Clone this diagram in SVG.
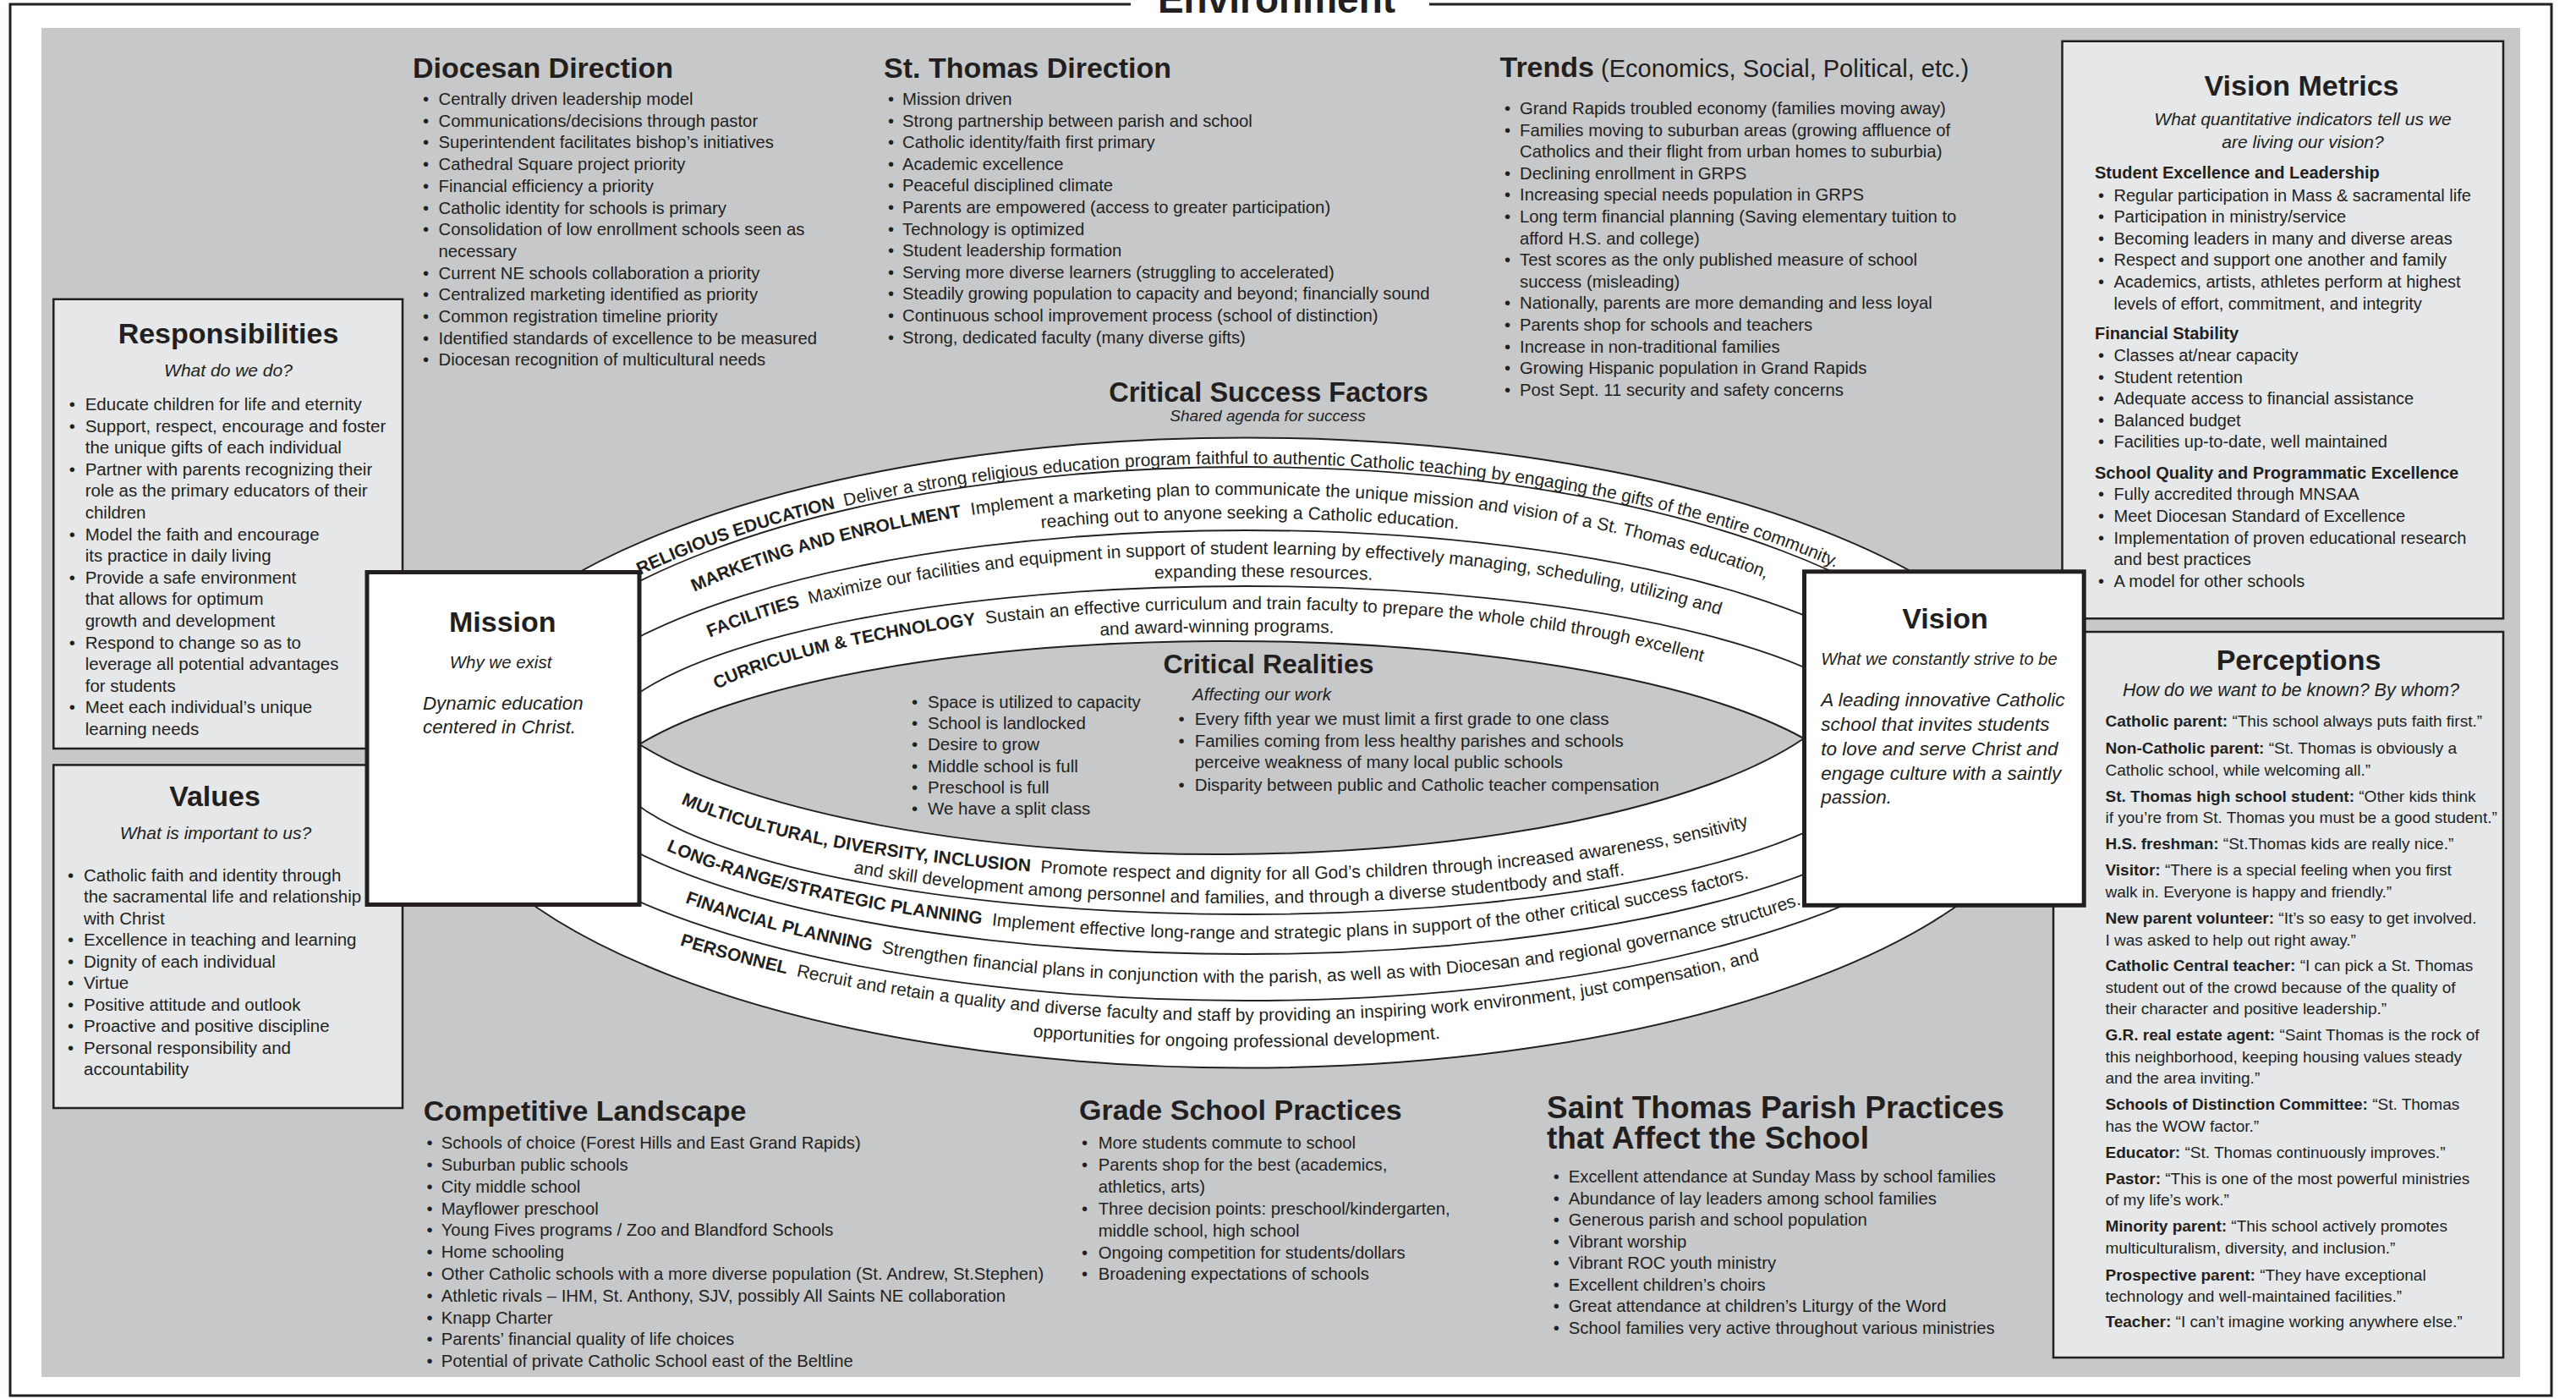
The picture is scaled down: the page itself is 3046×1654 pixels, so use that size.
<svg xmlns="http://www.w3.org/2000/svg" width="3046" height="1654" viewBox="0 0 3046 1654">
<defs>
<style>
text{font-family:"Liberation Sans",Arial,Helvetica,sans-serif;fill:#231f20}
.h{font-size:34px;font-weight:bold}
.b{font-size:20.3px}
.r{font-size:20.5px}
.v{font-size:20px}
.p{font-size:19px}
.it{font-style:italic}
.bd{font-weight:bold}
.box{fill:#e6e7e8;stroke:#231f20;stroke-width:2.5}
.mv{fill:#fff;stroke:#231f20;stroke-width:5}
.arc{fill:none;stroke:#231f20;stroke-width:1.8}
.band{font-size:21px}
.mid{text-anchor:middle}
</style>
<path id="p1" d="M565 890A908 342 0 0 1 2381 890"/>
<path id="p2" d="M639 890A834 305 0 0 1 2307 890"/>
<path id="p3" d="M623 890A850 277 0 0 1 2323 890"/>
<path id="p4" d="M695 890A778 235 0 0 1 2251 890"/>
<path id="p5" d="M693 890A780 208 0 0 1 2253 890"/>
<path id="p6" d="M776 890A697 170 0 0 1 2170 890"/>
<path id="p7" d="M773 890A700 143 0 0 1 2173 890"/>
<path id="p8" d="M744.4 890A728.6 150 0 0 0 2201.6 890"/>
<path id="p9" d="M704 890A769 178 0 0 0 2242 890"/>
<path id="p10" d="M668.4 890A804.6 220 0 0 0 2277.6 890"/>
<path id="p11" d="M599 890A874 272 0 0 0 2347 890"/>
<path id="p12" d="M513 890A960 317 0 0 0 2433 890"/>
<path id="p13" d="M513 890A960 348 0 0 0 2433 890"/>
</defs>
<rect width="3046" height="1654" fill="#fff"/>
<g id="frame">
<path d="M1337 5H12V1650H3017V5H1690" fill="none" stroke="#231f20" stroke-width="3"/>
<text x="1509.5" y="15" class="mid" font-size="46" font-weight="bold">Environment</text>
</g>
<rect id="environment-area" x="49" y="33" width="2931" height="1595" fill="#c7c8ca"/>

<g id="diocesan-direction">
<text class="h" x="488" y="92">Diocesan Direction</text>
<text class="b"><tspan x="500" y="124">•</tspan><tspan x="500" y="149.7">•</tspan><tspan x="500" y="175.4">•</tspan><tspan x="500" y="201.1">•</tspan><tspan x="500" y="226.8">•</tspan><tspan x="500" y="252.5">•</tspan><tspan x="500" y="278.2">•</tspan><tspan x="500" y="329.6">•</tspan><tspan x="500" y="355.3">•</tspan><tspan x="500" y="381">•</tspan><tspan x="500" y="406.7">•</tspan><tspan x="500" y="432.4">•</tspan></text>
<text class="b"><tspan x="518.5" y="124">Centrally driven leadership model</tspan><tspan x="518.5" y="149.7">Communications/decisions through pastor</tspan><tspan x="518.5" y="175.4">Superintendent facilitates bishop’s initiatives</tspan><tspan x="518.5" y="201.1">Cathedral Square project priority</tspan><tspan x="518.5" y="226.8">Financial efficiency a priority</tspan><tspan x="518.5" y="252.5">Catholic identity for schools is primary</tspan><tspan x="518.5" y="278.2">Consolidation of low enrollment schools seen as</tspan><tspan x="518.5" y="303.9">necessary</tspan><tspan x="518.5" y="329.6">Current NE schools collaboration a priority</tspan><tspan x="518.5" y="355.3">Centralized marketing identified as priority</tspan><tspan x="518.5" y="381">Common registration timeline priority</tspan><tspan x="518.5" y="406.7">Identified standards of excellence to be measured</tspan><tspan x="518.5" y="432.4">Diocesan recognition of multicultural needs</tspan></text>
</g>

<g id="st-thomas-direction">
<text class="h" x="1045" y="92">St. Thomas Direction</text>
<text class="b"><tspan x="1050" y="124">•</tspan><tspan x="1050" y="149.6">•</tspan><tspan x="1050" y="175.2">•</tspan><tspan x="1050" y="200.8">•</tspan><tspan x="1050" y="226.4">•</tspan><tspan x="1050" y="252">•</tspan><tspan x="1050" y="277.6">•</tspan><tspan x="1050" y="303.2">•</tspan><tspan x="1050" y="328.8">•</tspan><tspan x="1050" y="354.4">•</tspan><tspan x="1050" y="380">•</tspan><tspan x="1050" y="405.6">•</tspan></text>
<text class="b"><tspan x="1067" y="124">Mission driven</tspan><tspan x="1067" y="149.6">Strong partnership between parish and school</tspan><tspan x="1067" y="175.2">Catholic identity/faith first primary</tspan><tspan x="1067" y="200.8">Academic excellence</tspan><tspan x="1067" y="226.4">Peaceful disciplined climate</tspan><tspan x="1067" y="252">Parents are empowered (access to greater participation)</tspan><tspan x="1067" y="277.6">Technology is optimized</tspan><tspan x="1067" y="303.2">Student leadership formation</tspan><tspan x="1067" y="328.8">Serving more diverse learners (struggling to accelerated)</tspan><tspan x="1067" y="354.4">Steadily growing population to capacity and beyond; financially sound</tspan><tspan x="1067" y="380">Continuous school improvement process (school of distinction)</tspan><tspan x="1067" y="405.6">Strong, dedicated faculty (many diverse gifts)</tspan></text>
</g>

<g id="trends">
<text x="1773.5" y="91"><tspan class="h">Trends</tspan><tspan font-size="29"> (Economics, Social, Political, etc.)</tspan></text>
<text class="b"><tspan x="1779" y="135">•</tspan><tspan x="1779" y="160.6">•</tspan><tspan x="1779" y="211.8">•</tspan><tspan x="1779" y="237.4">•</tspan><tspan x="1779" y="263">•</tspan><tspan x="1779" y="314.2">•</tspan><tspan x="1779" y="365.4">•</tspan><tspan x="1779" y="391">•</tspan><tspan x="1779" y="416.6">•</tspan><tspan x="1779" y="442.2">•</tspan><tspan x="1779" y="467.8">•</tspan></text>
<text class="b"><tspan x="1797" y="135">Grand Rapids troubled economy (families moving away)</tspan><tspan x="1797" y="160.6">Families moving to suburban areas (growing affluence of</tspan><tspan x="1797" y="186.2">Catholics and their flight from urban homes to suburbia)</tspan><tspan x="1797" y="211.8">Declining enrollment in GRPS</tspan><tspan x="1797" y="237.4">Increasing special needs population in GRPS</tspan><tspan x="1797" y="263">Long term financial planning (Saving elementary tuition to</tspan><tspan x="1797" y="288.6">afford H.S. and college)</tspan><tspan x="1797" y="314.2">Test scores as the only published measure of school</tspan><tspan x="1797" y="339.8">success (misleading)</tspan><tspan x="1797" y="365.4">Nationally, parents are more demanding and less loyal</tspan><tspan x="1797" y="391">Parents shop for schools and teachers</tspan><tspan x="1797" y="416.6">Increase in non-traditional families</tspan><tspan x="1797" y="442.2">Growing Hispanic population in Grand Rapids</tspan><tspan x="1797" y="467.8">Post Sept. 11 security and safety concerns</tspan></text>
</g>

<g id="vision-metrics">
<rect class="box" x="2438.5" y="48.75" width="521.5" height="682.5"/>
<text class="h mid" x="2721.5" y="112.6">Vision Metrics</text>
<text class="it mid" font-size="21"><tspan x="2723" y="148">What quantitative indicators tell us we</tspan><tspan x="2723" y="175">are living our vision?</tspan></text>
<text class="v bd"><tspan x="2477" y="211">Student Excellence and Leadership</tspan><tspan x="2477" y="400.5">Financial Stability</tspan><tspan x="2477" y="565.7">School Quality and Programmatic Excellence</tspan></text>
<text class="v"><tspan x="2481" y="237.6">•</tspan><tspan x="2481" y="263">•</tspan><tspan x="2481" y="289">•</tspan><tspan x="2481" y="314.4">•</tspan><tspan x="2481" y="340.3">•</tspan><tspan x="2481" y="427.3">•</tspan><tspan x="2481" y="452.8">•</tspan><tspan x="2481" y="478.2">•</tspan><tspan x="2481" y="504">•</tspan><tspan x="2481" y="529.1">•</tspan><tspan x="2481" y="591.2">•</tspan><tspan x="2481" y="617">•</tspan><tspan x="2481" y="642.5">•</tspan><tspan x="2481" y="693.8">•</tspan></text>
<text class="v"><tspan x="2499.5" y="237.6">Regular participation in Mass &amp; sacramental life</tspan><tspan x="2499.5" y="263">Participation in ministry/service</tspan><tspan x="2499.5" y="289">Becoming leaders in many and diverse areas</tspan><tspan x="2499.5" y="314.4">Respect and support one another and family</tspan><tspan x="2499.5" y="340.3">Academics, artists, athletes perform at highest</tspan><tspan x="2499.5" y="365.7">levels of effort, commitment,  and integrity</tspan><tspan x="2499.5" y="427.3">Classes at/near capacity</tspan><tspan x="2499.5" y="452.8">Student retention</tspan><tspan x="2499.5" y="478.2">Adequate access to financial assistance</tspan><tspan x="2499.5" y="504">Balanced budget</tspan><tspan x="2499.5" y="529.1">Facilities up-to-date, well maintained</tspan><tspan x="2499.5" y="591.2">Fully accredited through MNSAA</tspan><tspan x="2499.5" y="617">Meet Diocesan Standard of Excellence</tspan><tspan x="2499.5" y="642.5">Implementation of proven educational research</tspan><tspan x="2499.5" y="668.4">and best practices</tspan><tspan x="2499.5" y="693.8">A model for other schools</tspan></text>
</g>

<g id="perceptions">
<rect class="box" x="2428" y="747" width="532" height="858"/>
<text class="h mid" x="2718" y="792">Perceptions</text>
<text class="it mid" font-size="21.5" x="2709" y="823">How do we want to be known? By whom?</text>
<text class="p" x="2489.5" y="859.2"><tspan class="bd">Catholic parent:</tspan> “This school always puts faith first.”</text>
<text class="p" x="2489.5" y="890.7"><tspan class="bd">Non-Catholic parent:</tspan> “St. Thomas is obviously a</text>
<text class="p" x="2489.5" y="917.1">Catholic school, while welcoming all.”</text>
<text class="p" x="2489.5" y="948.1"><tspan class="bd">St. Thomas high school student:</tspan> “Other kids think</text>
<text class="p" x="2489.5" y="972.8">if you’re from St. Thomas you must be a good student.”</text>
<text class="p" x="2489.5" y="1003.8"><tspan class="bd">H.S. freshman:</tspan> “St.Thomas kids are really nice.”</text>
<text class="p" x="2489.5" y="1034.8"><tspan class="bd">Visitor:</tspan> “There is a special feeling when you first</text>
<text class="p" x="2489.5" y="1061.2">walk in.  Everyone is happy and friendly.”</text>
<text class="p" x="2489.5" y="1092.2"><tspan class="bd">New parent volunteer:</tspan> “It’s so easy to get involved.</text>
<text class="p" x="2489.5" y="1117.5">I was asked to help out right away.”</text>
<text class="p" x="2489.5" y="1148.1"><tspan class="bd">Catholic Central teacher:</tspan> “I can pick a St. Thomas</text>
<text class="p" x="2489.5" y="1173.9">student out of the crowd because of the quality of</text>
<text class="p" x="2489.5" y="1198.6">their character and positive leadership.”</text>
<text class="p" x="2489.5" y="1230.2"><tspan class="bd">G.R. real estate agent:</tspan> “Saint Thomas is the rock of</text>
<text class="p" x="2489.5" y="1256">this neighborhood, keeping housing values steady</text>
<text class="p" x="2489.5" y="1281.3">and the area inviting.”</text>
<text class="p" x="2489.5" y="1311.6"><tspan class="bd">Schools of Distinction Committee:</tspan>  “St. Thomas</text>
<text class="p" x="2489.5" y="1337.5">has the WOW factor.”</text>
<text class="p" x="2489.5" y="1369.2"><tspan class="bd">Educator:</tspan> “St. Thomas continuously improves.”</text>
<text class="p" x="2489.5" y="1400.2"><tspan class="bd">Pastor:</tspan> “This is one of the most powerful ministries</text>
<text class="p" x="2489.5" y="1424.9">of my life’s work.”</text>
<text class="p" x="2489.5" y="1456.4"><tspan class="bd">Minority parent:</tspan>  “This school actively promotes</text>
<text class="p" x="2489.5" y="1482.3">multiculturalism, diversity, and inclusion.”</text>
<text class="p" x="2489.5" y="1513.9"><tspan class="bd">Prospective parent:</tspan>  “They have exceptional</text>
<text class="p" x="2489.5" y="1538.6">technology and well-maintained facilities.”</text>
<text class="p" x="2489.5" y="1568.5"><tspan class="bd">Teacher:</tspan> “I can’t imagine working anywhere else.”</text>
</g>

<g id="responsibilities">
<rect class="box" x="63.3" y="353.75" width="412.7" height="531.25"/>
<text class="h mid" x="270" y="405.6">Responsibilities</text>
<text class="it mid" font-size="21" x="270" y="445">What do we do?</text>
<text class="r"><tspan x="81.7" y="485">•</tspan><tspan x="81.7" y="510.6">•</tspan><tspan x="81.7" y="561.8">•</tspan><tspan x="81.7" y="638.6">•</tspan><tspan x="81.7" y="689.8">•</tspan><tspan x="81.7" y="766.6">•</tspan><tspan x="81.7" y="843.4">•</tspan></text>
<text class="r"><tspan x="100.7" y="485">Educate children for life and eternity</tspan><tspan x="100.7" y="510.6">Support, respect, encourage and foster</tspan><tspan x="100.7" y="536.2">the unique gifts of each individual</tspan><tspan x="100.7" y="561.8">Partner with parents recognizing their</tspan><tspan x="100.7" y="587.4">role as the primary educators of their</tspan><tspan x="100.7" y="613">children</tspan><tspan x="100.7" y="638.6">Model the faith and encourage</tspan><tspan x="100.7" y="664.2">its practice in daily living</tspan><tspan x="100.7" y="689.8">Provide a safe environment</tspan><tspan x="100.7" y="715.4">that allows for optimum</tspan><tspan x="100.7" y="741">growth and development</tspan><tspan x="100.7" y="766.6">Respond to change so as to</tspan><tspan x="100.7" y="792.2">leverage all potential advantages</tspan><tspan x="100.7" y="817.8">for students</tspan><tspan x="100.7" y="843.4">Meet each individual’s unique</tspan><tspan x="100.7" y="869">learning needs</tspan></text>
</g>

<g id="values">
<rect class="box" x="63.3" y="904.4" width="412.7" height="405.6"/>
<text class="h mid" x="254" y="952.5">Values</text>
<text class="it mid" font-size="21" x="255" y="992">What is important to us?</text>
<text class="r"><tspan x="80" y="1041.9">•</tspan><tspan x="80" y="1118.3">•</tspan><tspan x="80" y="1143.7">•</tspan><tspan x="80" y="1169.2">•</tspan><tspan x="80" y="1194.6">•</tspan><tspan x="80" y="1220.1">•</tspan><tspan x="80" y="1245.5">•</tspan></text>
<text class="r"><tspan x="99" y="1041.9">Catholic faith and identity through</tspan><tspan x="99" y="1067.4">the sacramental life and relationship</tspan><tspan x="99" y="1092.8">with Christ</tspan><tspan x="99" y="1118.3">Excellence in teaching and learning</tspan><tspan x="99" y="1143.7">Dignity of each individual</tspan><tspan x="99" y="1169.2">Virtue</tspan><tspan x="99" y="1194.6">Positive attitude and outlook</tspan><tspan x="99" y="1220.1">Proactive and positive discipline</tspan><tspan x="99" y="1245.5">Personal responsibility and</tspan><tspan x="99" y="1271">accountability</tspan></text>
</g>

<g id="critical-success-factors">
<text class="mid" x="1500" y="475" font-size="32.5" font-weight="bold">Critical Success Factors</text>
<text class="it mid" font-size="19" x="1499" y="498">Shared agenda for success</text>
<ellipse cx="1473" cy="890" rx="962" ry="372.5" fill="#fff" stroke="#231f20" stroke-width="2"/>
<path class="arc" d="M577 890A896 338 0 0 1 2369 890"/>
<path class="arc" d="M633 890A840 263 0 0 1 2313 890"/>
<path class="arc" d="M704 890A769 197 0 0 1 2242 890"/>
<path class="arc" d="M713 890A760 191 0 0 0 2233 890"/>
<path class="arc" d="M645 890A828 238 0 0 0 2301 890"/>
<path class="arc" d="M576 890A897 293 0 0 0 2370 890"/>
<text class="band mid" font-size="20.6"><textPath href="#p1" startOffset="49.5%"><tspan class="bd">RELIGIOUS EDUCATION</tspan>&#160; Deliver a strong religious education program faithful to authentic Catholic teaching by engaging the gifts of the entire community.</textPath></text>
<text class="band mid"><textPath href="#p2" startOffset="48.94%"><tspan class="bd">MARKETING AND ENROLLMENT</tspan>&#160; Implement a marketing plan to communicate the unique mission and vision of a St. Thomas education,</textPath></text>
<text class="band mid"><textPath href="#p3" startOffset="50.27%">reaching out to anyone seeking a Catholic education.</textPath></text>
<text class="band mid"><textPath href="#p4" startOffset="47.72%"><tspan class="bd">FACILITIES</tspan>&#160; Maximize our facilities and equipment in support of student learning by effectively managing, scheduling, utilizing and</textPath></text>
<text class="band mid"><textPath href="#p5" startOffset="51.25%">expanding these resources.</textPath></text>
<text class="band mid"><textPath href="#p6" startOffset="46.91%"><tspan class="bd">CURRICULUM &amp; TECHNOLOGY</tspan>&#160; Sustain an effective curriculum and train faculty to prepare the whole child through excellent</textPath></text>
<text class="band mid"><textPath href="#p7" startOffset="47.69%">and award-winning programs.</textPath></text>
<text class="band mid"><textPath href="#p8" startOffset="47.46%"><tspan class="bd">MULTICULTURAL, DIVERSITY, INCLUSION</tspan>&#160; Promote respect and dignity for all God’s children through increased awareness, sensitivity</textPath></text>
<text class="band mid"><textPath href="#p9" startOffset="49.51%">and skill development among personnel and families, and through a diverse studentbody and staff.</textPath></text>
<text class="band mid"><textPath href="#p10" startOffset="47.25%"><tspan class="bd">LONG-RANGE/STRATEGIC PLANNING</tspan>&#160; Implement effective long-range and strategic plans in support of the other critical success factors.</textPath></text>
<text class="band mid"><textPath href="#p11" startOffset="49.84%"><tspan class="bd">FINANCIAL PLANNING</tspan>&#160; Strengthen financial plans in conjunction with the parish, as well as with Diocesan and regional governance structures.</textPath></text>
<text class="band mid"><textPath href="#p12" startOffset="48.5%"><tspan class="bd">PERSONNEL</tspan>&#160; Recruit and retain a quality and diverse faculty and staff by providing an inspiring work environment, just compensation, and</textPath></text>
<text class="band mid"><textPath href="#p13" startOffset="49.5%">opportunities for ongoing professional development.</textPath></text>
</g>

<g id="critical-realities">
<path d="M756 880A760 205.5 0 0 1 2133 873A760 231.5 0 0 1 756 880Z" fill="#c7c8ca" stroke="#231f20" stroke-width="2"/>
<text class="mid" x="1500" y="796" font-size="32" font-weight="bold">Critical Realities</text>
<text class="r"><tspan x="1078" y="836.7">•</tspan><tspan x="1078" y="862">•</tspan><tspan x="1078" y="887.3">•</tspan><tspan x="1078" y="912.6">•</tspan><tspan x="1078" y="937.9">•</tspan><tspan x="1078" y="963.2">•</tspan></text>
<text class="r"><tspan x="1097" y="836.7">Space is utilized to capacity</tspan><tspan x="1097" y="862">School is landlocked</tspan><tspan x="1097" y="887.3">Desire to grow</tspan><tspan x="1097" y="912.6">Middle school is full</tspan><tspan x="1097" y="937.9">Preschool is full</tspan><tspan x="1097" y="963.2">We have a split class</tspan></text>
<text class="r it" x="1410" y="828.3">Affecting our work</text>
<text class="r"><tspan x="1393.6" y="856.7">•</tspan><tspan x="1393.6" y="883.3">•</tspan><tspan x="1393.6" y="935">•</tspan></text>
<text class="r"><tspan x="1412.7" y="856.7">Every fifth year we must limit a first grade to one class</tspan><tspan x="1412.7" y="883.3">Families coming from less healthy parishes and schools</tspan><tspan x="1412.7" y="908.3">perceive weakness of many local public schools</tspan><tspan x="1412.7" y="935">Disparity between public and Catholic teacher compensation</tspan></text>
</g>

<g id="mission">
<rect class="mv" x="434" y="676.5" width="322" height="393"/>
<text class="h mid" x="594.3" y="747.3">Mission</text>
<text class="it mid" font-size="20.5" x="592" y="790">Why we exist</text>
<text class="it" font-size="22.3"><tspan x="500" y="839">Dynamic education</tspan><tspan x="500" y="866.7">centered in Christ.</tspan></text>
</g>

<g id="vision">
<rect class="mv" x="2133.5" y="675.8" width="330.7" height="394.5"/>
<text class="h mid" x="2300" y="743.3">Vision</text>
<text class="it" font-size="20.2" x="2153.3" y="786">What we constantly strive to be</text>
<text class="it" font-size="22.5"><tspan x="2153.3" y="835">A leading innovative Catholic</tspan><tspan x="2153.3" y="864">school that invites students</tspan><tspan x="2153.3" y="892.7">to love and serve Christ and</tspan><tspan x="2153.3" y="921.7">engage culture with a saintly</tspan><tspan x="2153.3" y="950">passion.</tspan></text>
</g>

<g id="competitive-landscape">
<text class="h" x="500.8" y="1325">Competitive Landscape</text>
<text class="b"><tspan x="504.5" y="1358.3">•</tspan><tspan x="504.5" y="1384.1">•</tspan><tspan x="504.5" y="1409.8">•</tspan><tspan x="504.5" y="1435.6">•</tspan><tspan x="504.5" y="1461.4">•</tspan><tspan x="504.5" y="1487.2">•</tspan><tspan x="504.5" y="1512.9">•</tspan><tspan x="504.5" y="1538.7">•</tspan><tspan x="504.5" y="1564.5">•</tspan><tspan x="504.5" y="1590.2">•</tspan><tspan x="504.5" y="1616">•</tspan></text>
<text class="b"><tspan x="521.7" y="1358.3">Schools of choice (Forest Hills and East Grand Rapids)</tspan><tspan x="521.7" y="1384.1">Suburban public schools</tspan><tspan x="521.7" y="1409.8">City middle school</tspan><tspan x="521.7" y="1435.6">Mayflower preschool</tspan><tspan x="521.7" y="1461.4">Young Fives programs / Zoo and Blandford Schools</tspan><tspan x="521.7" y="1487.2">Home schooling</tspan><tspan x="521.7" y="1512.9">Other Catholic schools with a more diverse population (St. Andrew, St.Stephen)</tspan><tspan x="521.7" y="1538.7">Athletic rivals – IHM, St. Anthony, SJV, possibly All Saints NE collaboration</tspan><tspan x="521.7" y="1564.5">Knapp Charter</tspan><tspan x="521.7" y="1590.2">Parents’ financial quality of life choices</tspan><tspan x="521.7" y="1616">Potential of private Catholic School east of the Beltline</tspan></text>
</g>

<g id="grade-school-practices">
<text class="h" x="1276" y="1324">Grade School Practices</text>
<text class="b"><tspan x="1279" y="1358.3">•</tspan><tspan x="1279" y="1384.1">•</tspan><tspan x="1279" y="1435.8">•</tspan><tspan x="1279" y="1487.5">•</tspan><tspan x="1279" y="1513.3">•</tspan></text>
<text class="b"><tspan x="1298.7" y="1358.3">More students commute to school</tspan><tspan x="1298.7" y="1384.1">Parents shop for the best (academics,</tspan><tspan x="1298.7" y="1410">athletics, arts)</tspan><tspan x="1298.7" y="1435.8">Three decision points: preschool/kindergarten,</tspan><tspan x="1298.7" y="1461.6">middle school, high school</tspan><tspan x="1298.7" y="1487.5">Ongoing competition for students/dollars</tspan><tspan x="1298.7" y="1513.3">Broadening expectations of schools</tspan></text>
</g>

<g id="parish-practices">
<text font-size="37" font-weight="bold"><tspan x="1829" y="1321.7">Saint Thomas Parish Practices</tspan><tspan x="1829" y="1358.3">that Affect the School</tspan></text>
<text class="b"><tspan x="1836.8" y="1398.3">•</tspan><tspan x="1836.8" y="1423.8">•</tspan><tspan x="1836.8" y="1449.3">•</tspan><tspan x="1836.8" y="1474.8">•</tspan><tspan x="1836.8" y="1500.3">•</tspan><tspan x="1836.8" y="1525.8">•</tspan><tspan x="1836.8" y="1551.2">•</tspan><tspan x="1836.8" y="1576.7">•</tspan></text>
<text class="b"><tspan x="1854.8" y="1398.3">Excellent attendance at Sunday Mass by school families</tspan><tspan x="1854.8" y="1423.8">Abundance of lay leaders among school families</tspan><tspan x="1854.8" y="1449.3">Generous parish and school population</tspan><tspan x="1854.8" y="1474.8">Vibrant worship</tspan><tspan x="1854.8" y="1500.3">Vibrant ROC youth ministry</tspan><tspan x="1854.8" y="1525.8">Excellent children’s choirs</tspan><tspan x="1854.8" y="1551.2">Great attendance at children’s Liturgy of the Word</tspan><tspan x="1854.8" y="1576.7">School families very active throughout various ministries</tspan></text>
</g>
<g id="connectors"></g>
</svg>
